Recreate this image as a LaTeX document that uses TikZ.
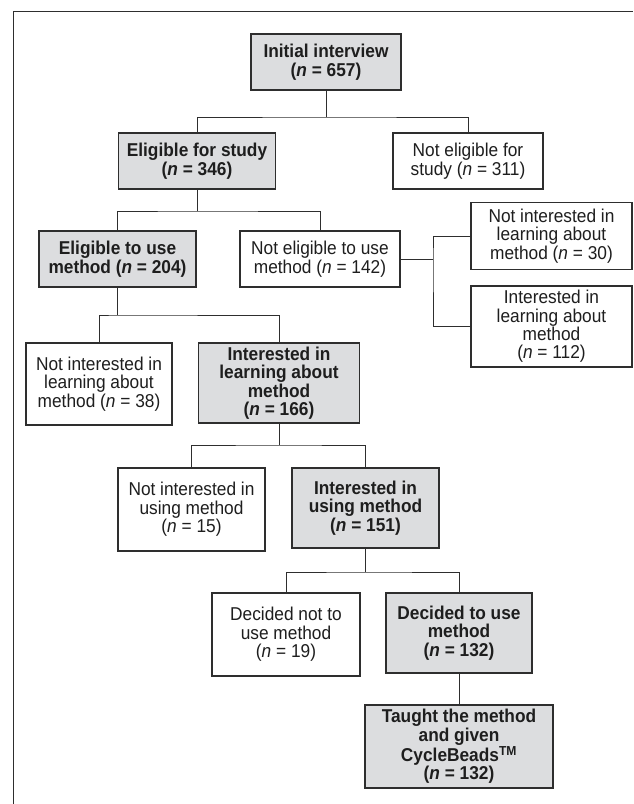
\documentclass[tikz,border=0pt]{standalone}
\usepackage{fontspec}
\setmainfont{Liberation Sans}[FakeStretch=0.93]
\definecolor{boxgray}{HTML}{DCDDDF}
\definecolor{linegray}{HTML}{2E2E2E}
\definecolor{txt}{HTML}{1E1E1E}
\begin{document}
\begin{tikzpicture}[x=1pt,y=-1pt,
  base/.style={draw=linegray, line width=1.2pt, inner sep=0pt, outer sep=0pt,
    align=center, text=txt, font=\fontsize{18.6}{18.4}\selectfont},
  gbox/.style={base, fill=boxgray, font=\fontsize{18.6}{18.4}\selectfont\bfseries},
  wbox/.style={base, fill=white},
  conn/.style={draw=linegray, line width=1pt}]
\useasboundingbox (0,0) rectangle (633,804);
\draw[conn] (13,804) -- (13,11) -- (633,11);

\node[gbox, minimum width=150pt, minimum height=56pt] (init) at (326,62) {Initial interview\\(\textit{n} = 657)};
\node[gbox, minimum width=157pt, minimum height=56pt] (elig) at (197,161) {Eligible for study\\(\textit{n} = 346)};
\node[wbox, minimum width=150pt, minimum height=56pt] (notelig) at (468,161) {Not eligible for\\study (\textit{n} = 311)};
\node[gbox, minimum width=157pt, minimum height=56pt] (eliguse) at (117.5,259) {Eligible to use\\method (\textit{n} = 204)};
\node[wbox, minimum width=160pt, minimum height=56pt] (noteliguse) at (320,259) {Not eligible to use\\method (\textit{n} = 142)};
\node[wbox, minimum width=161pt, minimum height=67pt] (ni30) at (551.5,236) {Not interested in\\learning about\\method (\textit{n} = 30)};
\node[wbox, minimum width=161pt, minimum height=81pt] (int112) at (551.5,326.5) {Interested in\\learning about\\method\\(\textit{n} = 112)};
\node[wbox, minimum width=146pt, minimum height=82pt] (ni38) at (99,384) {Not interested in\\learning about\\method (\textit{n} = 38)};
\node[gbox, minimum width=161pt, minimum height=80pt] (int166) at (279,383) {Interested in\\learning about\\method\\(\textit{n} = 166)};
\node[wbox, minimum width=147pt, minimum height=83pt] (niu15) at (191.5,509.5) {Not interested in\\using method\\(\textit{n} = 15)};
\node[gbox, minimum width=147pt, minimum height=80pt] (intu151) at (365.5,508) {Interested in\\using method\\(\textit{n} = 151)};
\node[wbox, minimum width=148pt, minimum height=83pt] (dn19) at (286,634.5) {Decided not to\\use method\\(\textit{n} = 19)};
\node[gbox, minimum width=146pt, minimum height=80pt] (du132) at (459,633) {Decided to use\\method\\(\textit{n} = 132)};
\node[gbox, minimum width=188pt, minimum height=83pt] (taught) at (459,746.5) {Taught the method\\and given\\CycleBeads\textsuperscript{TM}\\(\textit{n} = 132)};

\coordinate (j1) at (326,117);
\coordinate (j2) at (197,211);
\coordinate (j3) at (433,259);
\coordinate (j4) at (117.5,315);
\coordinate (j5) at (279,445);
\coordinate (j6) at (365.5,572);

\draw[conn] (init.south) -- (j1);
\draw[conn] (elig.north) |- (j1) -| (notelig.north);
\draw[conn] (elig.south) -- (j2);
\draw[conn] (eliguse.north) |- (j2) -| (noteliguse.north);
\draw[conn] (noteliguse.east) -- (j3);
\draw[conn] (ni30.west) -| (j3) |- (int112.west);
\draw[conn] (eliguse.south) -- (j4);
\draw[conn] (ni38.north) |- (j4) -| (int166.north);
\draw[conn] (int166.south) -- (j5);
\draw[conn] (niu15.north) |- (j5) -| (intu151.north);
\draw[conn] (intu151.south) -- (j6);
\draw[conn] (dn19.north) |- (j6) -| (du132.north);
\draw[conn] (du132.south) -- (taught.north);
\end{tikzpicture}
\end{document}
